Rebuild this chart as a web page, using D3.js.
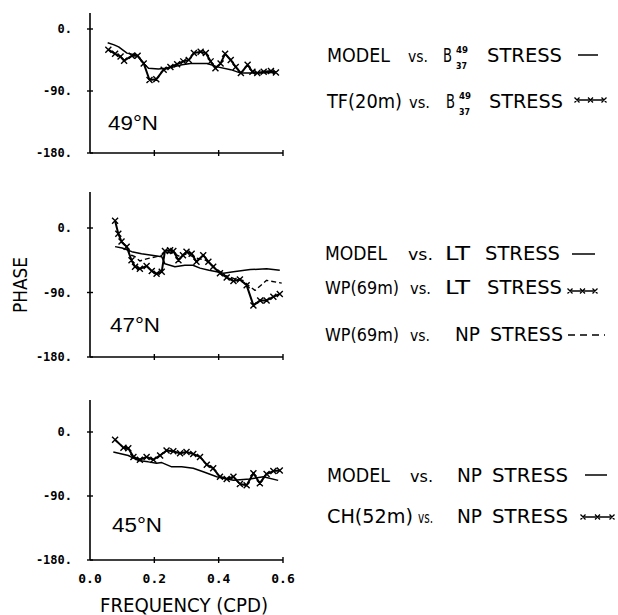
<!DOCTYPE html>
<html><head><meta charset="utf-8">
<script src="https://cdn.jsdelivr.net/npm/d3@7"></script>
<style>body{margin:0;background:#fff}svg{display:block}</style>
</head><body>
<svg id="c" width="618" height="615"></svg>
<script>
// ---- data ----
const freqTicks = [0, 0.2, 0.4, 0.6];
const freqTickLabels = ["0.0", "0.2", "0.4", "0.6"];
const phaseTicks = [0, -90, -180];
const phaseTickLabels = ["0.", "-90.", "-180."];
const panelLabels = ["49°N", "47°N", "45°N"];

// 49N
const model49 = [[0.055,-20],[0.075,-23],[0.089,-26],[0.115,-35],[0.146,-38],[0.167,-50],[0.182,-57],[0.213,-58],[0.234,-57],[0.26,-55],[0.286,-52],[0.3125,-50],[0.365,-50],[0.396,-55],[0.4375,-59],[0.469,-64],[0.52,-64],[0.573,-63]];
const tf49 = [[0.057,-30],[0.078,-36],[0.095,-40],[0.106,-46],[0.13,-39],[0.148,-39],[0.167,-50],[0.185,-74],[0.206,-73],[0.229,-59],[0.25,-55],[0.271,-51],[0.29,-47],[0.307,-45],[0.323,-35],[0.344,-33],[0.36,-35],[0.375,-47],[0.39,-57],[0.406,-50],[0.42,-36],[0.4375,-45],[0.453,-55],[0.469,-64],[0.49,-52],[0.505,-62],[0.52,-64],[0.54,-62],[0.5625,-61],[0.578,-63]];

// 47N
const model47 = [[0.078,-26],[0.1,-28],[0.13,-33],[0.16,-36],[0.192,-38],[0.223,-40],[0.233,-50],[0.264,-54],[0.295,-52],[0.32,-52],[0.342,-56],[0.37,-59],[0.394,-61],[0.415,-63],[0.446,-61],[0.498,-58],[0.549,-57],[0.59,-59]];
const wpLT47 = [[0.078,10],[0.088,-8],[0.098,-19],[0.114,-26],[0.129,-45],[0.14,-54],[0.155,-57],[0.176,-53],[0.192,-60],[0.207,-64],[0.223,-61],[0.233,-32],[0.249,-31],[0.259,-32],[0.275,-45],[0.289,-38],[0.3,-33],[0.316,-36],[0.331,-47],[0.352,-38],[0.368,-47],[0.383,-54],[0.404,-63],[0.425,-69],[0.446,-74],[0.466,-72],[0.487,-80],[0.508,-108],[0.529,-101],[0.549,-101],[0.57,-96],[0.59,-92]];
const wpNP47 = [[0.098,-20],[0.114,-27],[0.129,-38],[0.14,-40],[0.155,-46],[0.176,-43],[0.207,-40],[0.223,-38],[0.233,-34],[0.259,-35],[0.28,-40],[0.3,-36],[0.33,-42],[0.36,-45],[0.39,-56],[0.42,-66],[0.45,-71],[0.475,-73],[0.492,-80],[0.513,-87],[0.549,-73],[0.596,-77]];

// 45N
const model45 = [[0.0725,-28],[0.119,-33],[0.15,-40],[0.181,-42],[0.207,-44],[0.223,-43],[0.254,-49],[0.285,-49],[0.321,-51],[0.352,-56],[0.394,-63],[0.446,-68],[0.497,-66],[0.539,-63],[0.585,-68]];
const ch45 = [[0.078,-11],[0.104,-22],[0.119,-23],[0.135,-35],[0.155,-39],[0.176,-35],[0.197,-39],[0.218,-33],[0.238,-26],[0.259,-27],[0.28,-30],[0.3,-28],[0.321,-31],[0.342,-35],[0.363,-46],[0.383,-51],[0.404,-63],[0.425,-66],[0.446,-63],[0.466,-73],[0.487,-75],[0.508,-58],[0.528,-72],[0.549,-59],[0.57,-55],[0.59,-54]];

// ---- layout ----
const svg = d3.select("#c");
const x = d3.scaleLinear().domain([0, 0.6]).range([90, 283]);

const panels = [
  {yZero: 29, yBottom: 153, top: 13, label: panelLabels[0], lx: 108, ly: 130,
   series: [{d: model49, s: "solid"}, {d: tf49, s: "marker"}]},
  {yZero: 228, yBottom: 357, top: 192, label: panelLabels[1], lx: 110, ly: 332,
   series: [{d: model47, s: "solid"}, {d: wpNP47, s: "dash"}, {d: wpLT47, s: "marker"}]},
  {yZero: 432, yBottom: 560, top: 400, label: panelLabels[2], lx: 112, ly: 532,
   series: [{d: model45, s: "solid"}, {d: ch45, s: "marker"}]}
];

panels.forEach((p, i) => {
  const y = d3.scaleLinear().domain([-180, 0]).range([p.yBottom, p.yZero]);
  const g = svg.append("g");
  g.append("line").attr("x1", x(0)).attr("x2", x(0)).attr("y1", p.top).attr("y2", y(-180))
    .attr("stroke", "#000").attr("stroke-width", 1.6);
  g.append("line").attr("x1", x(0)).attr("x2", x(0.6)).attr("y1", y(-180)).attr("y2", y(-180))
    .attr("stroke", "#000").attr("stroke-width", 1.6);
  phaseTicks.forEach((t, k) => {
    g.append("line").attr("x1", x(0) - 3).attr("x2", x(0) + 3).attr("y1", y(t)).attr("y2", y(t))
      .attr("stroke", "#000").attr("stroke-width", 1.4);
    g.append("text").attr("x", 72).attr("y", y(t)).attr("dy", "0.35em")
      .attr("text-anchor", "end").attr("font-family", "DejaVu Sans Mono").attr("font-weight", "bold")
      .attr("font-size", 12).text(phaseTickLabels[k]);
  });
  freqTicks.slice(1).forEach(t => {
    g.append("line").attr("x1", x(t)).attr("x2", x(t)).attr("y1", y(-180) - 3).attr("y2", y(-180) + 3)
      .attr("stroke", "#000").attr("stroke-width", 1.4);
  });
  if (i === 2) {
    freqTicks.forEach((t, k) => {
      g.append("text").attr("x", x(t)).attr("y", 583).attr("text-anchor", "middle")
        .attr("font-family", "DejaVu Sans Mono").attr("font-weight", "bold").attr("font-size", 13)
        .text(freqTickLabels[k]);
    });
  }
  const line = d3.line().x(d => x(d[0])).y(d => y(d[1]));
  p.series.forEach(s => {
    const path = g.append("path").attr("d", line(s.d)).attr("fill", "none").attr("stroke", "#000")
      .attr("stroke-linejoin", "round");
    if (s.s === "solid") path.attr("stroke-width", 1.5);
    if (s.s === "dash") path.attr("stroke-width", 1.4).attr("stroke-dasharray", "5,3");
    if (s.s === "marker") {
      path.attr("stroke-width", 2);
      g.append("path").attr("d", s.d.map(d => {
        const px = x(d[0]), py = y(d[1]);
        return `M${px-3},${py-3}L${px+3},${py+3}M${px-3},${py+3}L${px+3},${py-3}`;
      }).join("")).attr("stroke", "#000").attr("stroke-width", 1.4).attr("fill", "none");
    }
  });
  g.append("text").attr("x", p.lx).attr("y", p.ly).attr("font-family", "Liberation Sans")
    .attr("font-size", 20).attr("textLength", 50).attr("lengthAdjust", "spacingAndGlyphs").text(p.label);
});

// axis titles
svg.append("text").attr("transform", "translate(27,285) rotate(-90)").attr("text-anchor", "middle")
  .attr("font-family", "DejaVu Sans").attr("font-size", 19).attr("textLength", 56)
  .attr("lengthAdjust", "spacingAndGlyphs").text("PHASE");
svg.append("text").attr("x", 100).attr("y", 612)
  .attr("font-family", "DejaVu Sans").attr("font-size", 19).attr("textLength", 168)
  .attr("lengthAdjust", "spacingAndGlyphs").text("FREQUENCY (CPD)");

// legends
const legendLines = [
  {base: 62, sym: "solid", sx: [578, 598], sy: 55, words: [["MODEL",327,390,19],["vs.",408,428,15],["B",443,452,19],["STRESS",487,562,19]], bsup: [456, 468, 53], bsub: [456, 467, 69]},
  {base: 108, sym: "marker", sx: [577, 604], sy: 100, words: [["TF(20m)",327,402,19],["vs.",409,430,15],["B",446,455,19],["STRESS",489,563,19]], bsup: [459, 471, 99], bsub: [459, 470, 115]},
  {base: 260, sym: "solid", sx: [572, 595], sy: 254, words: [["MODEL",325,387,19],["vs.",408,433,15],["LT",445,470,19],["STRESS",485,560,19]]},
  {base: 294, sym: "marker", sx: [570, 595], sy: 291, words: [["WP(69m)",325,399,18],["vs.",410,431,15],["LT",445,470,19],["STRESS",487,562,19]]},
  {base: 341, sym: "dash", sx: [568, 605], sy: 335, words: [["WP(69m)",325,399,18],["vs.",410,430,15],["NP",455,480,19],["STRESS",490,563,19]]},
  {base: 482, sym: "solid", sx: [585, 607], sy: 475, words: [["MODEL",327,390,19],["vs.",410,433,15],["NP",457,482,19],["STRESS",492,568,19]]},
  {base: 523, sym: "marker", sx: [583, 612], sy: 517, words: [["CH(52m)",327,413,19],["vs.",418,433,15],["NP",457,482,19],["STRESS",492,568,19]]}
];
legendLines.forEach(L => {
  L.words.forEach(w => {
    svg.append("text").attr("x", w[1]).attr("y", L.base).attr("font-family", "DejaVu Sans")
      .attr("font-size", w[3]).attr("textLength", w[2] - w[1])
      .attr("lengthAdjust", "spacingAndGlyphs").text(w[0]);
  });
  if (L.bsup) {
    svg.append("text").attr("x", L.bsup[0]).attr("y", L.bsup[2]).attr("font-family", "DejaVu Sans")
      .attr("font-weight", "bold").attr("font-size", 8).attr("textLength", L.bsup[1] - L.bsup[0])
      .attr("lengthAdjust", "spacingAndGlyphs").text("49");
    svg.append("text").attr("x", L.bsub[0]).attr("y", L.bsub[2]).attr("font-family", "DejaVu Sans")
      .attr("font-weight", "bold").attr("font-size", 8).attr("textLength", L.bsub[1] - L.bsub[0])
      .attr("lengthAdjust", "spacingAndGlyphs").text("37");
  }
  const ln = svg.append("line").attr("x1", L.sx[0]).attr("x2", L.sx[1]).attr("y1", L.sy).attr("y2", L.sy)
    .attr("stroke", "#000");
  if (L.sym === "solid") ln.attr("stroke-width", 1.5);
  if (L.sym === "dash") ln.attr("stroke-width", 1.5).attr("stroke-dasharray", "7,5");
  if (L.sym === "marker") {
    ln.attr("stroke-width", 1.5);
    const n = 3, step = (L.sx[1] - L.sx[0]) / (n - 1);
    let d = "";
    for (let k = 0; k < n; k++) {
      const px = L.sx[0] + k * step, py = L.sy;
      d += `M${px-2.5},${py-2.5}L${px+2.5},${py+2.5}M${px-2.5},${py+2.5}L${px+2.5},${py-2.5}`;
    }
    svg.append("path").attr("d", d).attr("stroke", "#000").attr("stroke-width", 1.3).attr("fill", "none");
  }
});
</script>
</body></html>
